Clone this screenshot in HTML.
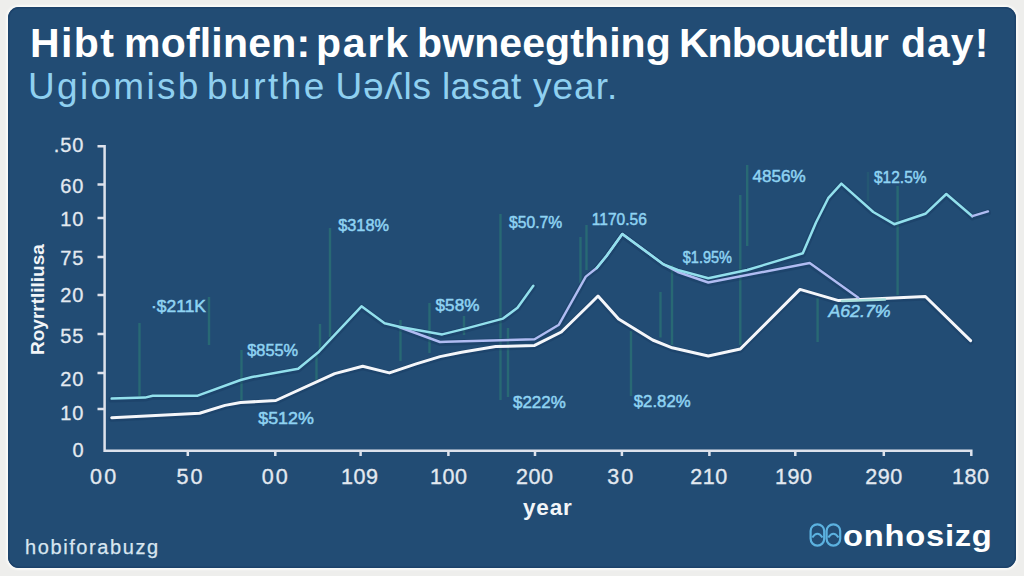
<!DOCTYPE html>
<html><head><meta charset="utf-8">
<style>
html,body{margin:0;padding:0;width:1024px;height:576px;overflow:hidden;background:#eeeeec;}
body{font-family:"Liberation Sans",sans-serif;position:relative;}
.card{position:absolute;left:8px;top:7px;width:1008px;height:561px;background:#224c74;border-radius:11px;box-shadow:0 0 2px 2px #fafaf8, inset 0 0 0 1.5px #1c426a;}
.t{position:absolute;white-space:nowrap;line-height:1;}
.ti{font-size:41px;font-weight:bold;color:#fff;top:22.5px;}
.su{font-size:37px;color:#8fd0f0;top:68px;}
svg{position:absolute;left:0;top:0;}
</style></head><body>
<div class="card"></div>
<div class="t ti" style="left:30px;letter-spacing:1.4px">Hibt</div>
<div class="t ti" style="left:124px;letter-spacing:0.2px">moflinen:</div>
<div class="t ti" style="left:316px;letter-spacing:1.8px">park</div>
<div class="t ti" style="left:417px;letter-spacing:0.1px">bwneegthing</div>
<div class="t ti" style="left:679px;letter-spacing:-1px">Knbouctlur</div>
<div class="t ti" style="left:901px;letter-spacing:1px">day!</div>

<div class="t su" style="left:28px;letter-spacing:2.3px">Ugiomisb</div>
<div class="t su" style="left:207px;letter-spacing:2.5px">burthe</div>
<div class="t su" style="left:335.5px;letter-spacing:0.75px">Uəʎls</div>
<div class="t su" style="left:442px;letter-spacing:0.3px">lasat</div>
<div class="t su" style="left:533px;letter-spacing:1.0px">year.</div>

<svg width="1024" height="576" viewBox="0 0 1024 576">
  <!-- green verticals -->
  <g stroke="#2e8274" stroke-width="2.4" fill="none" opacity="0.55">
    <path d="M139.5 323V396M209 297V345M241.5 350V400M330 228V337M320 324V350M316.5 355V380M400.5 320V361M429.5 303V353M464 316V335M500.5 214V400M508 328V397M580.5 237V283M586.5 225V270M631 331V396M660.5 292V337.5M672 265V345M740.3 195V345M747.2 165V246M817.6 298V342M897.6 186V295"/>
    <path d="M868 172V201" opacity="0.4"/>
  </g>
  <!-- axes -->
  <g stroke="#dde2ec" stroke-width="2.5" fill="none">
    <path d="M97.5 146.3H104.6V450.8H971.3V456"/>
    <path d="M97.5 184.5H104.6M97.5 218H104.6M97.5 257H104.6M97.5 295H104.6M97.5 334H104.6M97.5 373H104.6M97.5 409H104.6"/>
    <path d="M187.8 450.8V456M275.3 450.8V456M360.6 450.8V456M448.4 450.8V456M535 450.8V456M621.9 450.8V456M709.4 450.8V456M795.3 450.8V456M883.8 450.8V456"/>
  </g>
  <g fill="#e3e9f0" stroke="#e3e9f0" stroke-width="0.3" font-family="Liberation Sans" font-size="20" letter-spacing="1" text-anchor="end">
    <text x="84.5" y="152">.50</text>
    <text x="84.5" y="192.5">60</text>
    <text x="84.5" y="225.5">10</text>
    <text x="84.5" y="265">75</text>
    <text x="84.5" y="301.5">20</text>
    <text x="84.5" y="342.5">55</text>
    <text x="84.5" y="385.5">20</text>
    <text x="84.5" y="419.5">10</text>
    <text x="84.5" y="457">0</text>
  </g>
  <g fill="#e3e9f0" stroke="#e3e9f0" stroke-width="0.35" font-family="Liberation Sans" font-size="21.5" text-anchor="middle" lengthAdjust="spacingAndGlyphs">
    <text x="103.1" y="484" textLength="26">00</text>
    <text x="189.4" y="484" textLength="26">50</text>
    <text x="274.7" y="484" textLength="26">00</text>
    <text x="359.4" y="484" textLength="37">109</text>
    <text x="448.4" y="484" textLength="37">100</text>
    <text x="534.4" y="484" textLength="37">200</text>
    <text x="620.2" y="484" textLength="26">30</text>
    <text x="708.7" y="484" textLength="37">210</text>
    <text x="793.4" y="484" textLength="37">190</text>
    <text x="883.7" y="484" textLength="37">290</text>
    <text x="970.4" y="484" textLength="37">180</text>
  </g>
  <text x="523" y="515.2" fill="#f2f5f8" font-family="Liberation Sans" font-weight="bold" font-size="22.5" letter-spacing="0.8">year</text>
  <text transform="translate(43.5,355) rotate(-90)" fill="#f2f5f8" font-family="Liberation Sans" font-weight="bold" font-size="19">Royrrtliliusa</text>

  <!-- line shadows -->
  <g fill="none" stroke="#14345a" stroke-width="6" stroke-linejoin="round" stroke-linecap="round" opacity="0.3" transform="translate(0,1)">
    <path d="M111.7 417.7L199.6 413.2L225 405.4L240.6 402.5L275.8 400.5L334.7 373.6L362.7 366.3L389.4 372.9L416.2 363.9L440 356.6L461.6 352.2L495.7 346.6L534.6 345.4L561.3 332L590 304L598 296L618.6 319L652.7 340L672.2 347.8L708.3 356L740.3 349L800 289.4L838.6 300.6L925.4 296.5L970.6 340.6"/>
    <path d="M399 327L440 342L445.8 341.7L534.6 339.3L558.9 324.7L585.8 276.6L596.7 268L606.5 256L622.3 234L663.6 264.4L677.8 272L708.3 282.5L809.7 263L858.3 297.8"/>
    <path d="M111.7 398.6L144.9 397.6L152.7 395.7L197.7 395.7L240.6 380L252 377L298.2 368.8L318.9 351.7L361.5 306.3L384.6 323.3L399.1 326.7L442.2 334.4L466.5 328.4L503 318.6L517.5 307.7L533.3 285.8"/>
    <path d="M596.7 268L606.5 256L622.3 234L663.6 264.4L677.8 270L708.3 278.3L747.2 270L802.8 253.3L816 222.5L828.2 198.2L841.4 183.6L873.3 212L894.2 224.2L925.4 213.8L946.3 194L972.3 216.2"/>
    <path d="M972.3 216.2L988 211.4"/>
  </g>
  <!-- lines -->
  <g fill="none" stroke-linejoin="round" stroke-linecap="round">
    <!-- white -->
    <path stroke="#f4f6fa" stroke-width="3" d="M111.7 417.7L199.6 413.2L225 405.4L240.6 402.5L275.8 400.5L334.7 373.6L362.7 366.3L389.4 372.9L416.2 363.9L440 356.6L461.6 352.2L495.7 346.6L534.6 345.4L561.3 332L590 304L598 296L618.6 319L652.7 340L672.2 347.8L708.3 356L740.3 349L800 289.4L838.6 300.6L925.4 296.5L970.6 340.6"/>
    <!-- purple -->
    <path stroke="#b0bcf2" stroke-width="2.4" d="M399 327L440 342L445.8 341.7L534.6 339.3L558.9 324.7L585.8 276.6L596.7 268L606.5 256L622.3 234L663.6 264.4L677.8 272L708.3 282.5L809.7 263L858.3 297.8"/>
    <!-- cyan -->
    <path stroke="#92e0ec" stroke-width="2.5" d="M111.7 398.6L144.9 397.6L152.7 395.7L197.7 395.7L240.6 380L252 377L298.2 368.8L318.9 351.7L361.5 306.3L384.6 323.3L399.1 326.7L442.2 334.4L466.5 328.4L503 318.6L517.5 307.7L533.3 285.8"/>
    <path stroke="#92e0ec" stroke-width="2.5" d="M596.7 268L606.5 256L622.3 234L663.6 264.4L677.8 270L708.3 278.3L747.2 270L802.8 253.3L816 222.5L828.2 198.2L841.4 183.6L873.3 212L894.2 224.2L925.4 213.8L946.3 194L972.3 216.2"/>
    <path stroke="#b0bcf2" stroke-width="2.4" d="M972.3 216.2L988 211.4"/>
    <path stroke="#a8e0dc" stroke-width="2.6" d="M842 301L885 299.5"/>
  </g>

  <!-- annotations -->
  <g fill="#8fd3f2" stroke="#8fd3f2" stroke-width="0.5" font-family="Liberation Sans" font-size="17" lengthAdjust="spacingAndGlyphs">
    <text x="151.00" y="311.55" textLength="55.00" lengthAdjust="spacingAndGlyphs">·$211K</text>
    <text x="338.20" y="231.00" textLength="50.80" lengthAdjust="spacingAndGlyphs">$318%</text>
    <text x="247.20" y="355.70" textLength="51.00" lengthAdjust="spacingAndGlyphs">$855%</text>
    <text x="258.20" y="423.90" textLength="55.80" lengthAdjust="spacingAndGlyphs">$512%</text>
    <text x="435.60" y="311.25" textLength="43.80" lengthAdjust="spacingAndGlyphs">$58%</text>
    <text x="509.00" y="228.45" textLength="53.20" lengthAdjust="spacingAndGlyphs">$50.7%</text>
    <text x="591.80" y="225.25" textLength="55.00" lengthAdjust="spacingAndGlyphs">1170.56</text>
    <text x="513.00" y="408.30" textLength="52.80" lengthAdjust="spacingAndGlyphs">$222%</text>
    <text x="682.80" y="262.85" textLength="49.20" lengthAdjust="spacingAndGlyphs">$1.95%</text>
    <text x="633.80" y="407.45" textLength="56.80" lengthAdjust="spacingAndGlyphs">$2.82%</text>
    <text x="752.60" y="181.95" textLength="53.20" lengthAdjust="spacingAndGlyphs">4856%</text>
    <text x="874.00" y="183.00" textLength="52.60" lengthAdjust="spacingAndGlyphs">$12.5%</text>
    <text x="828.40" y="317.40" textLength="62.20" lengthAdjust="spacingAndGlyphs" font-style="italic">A62.7%</text>
  </g>
</svg>
<div class="t" style="left:25px;top:537px;font-size:20px;letter-spacing:1.6px;color:#d8e6f0;-webkit-text-stroke:0.25px #d8e6f0">hobiforabuzg</div>
<svg width="1024" height="576" style="position:absolute;left:0;top:0"><g fill="none" stroke="#5cb2e0" stroke-width="2.2"><rect x="810.6" y="524.3" width="13.6" height="21.3" rx="6.8"/><path d="M812.3 537.5Q817.4 530 822.5 537.5"/><rect x="826.6" y="524.3" width="13.6" height="21.3" rx="6.8"/><path d="M828.3 537.5Q833.4 530 838.5 537.5"/></g></svg>
<div class="t" style="left:843px;top:521px;font-size:30px;font-weight:bold;color:#fff;letter-spacing:0.7px;transform:scaleX(1.09);transform-origin:0 0">onhosizg</div>
</body></html>
